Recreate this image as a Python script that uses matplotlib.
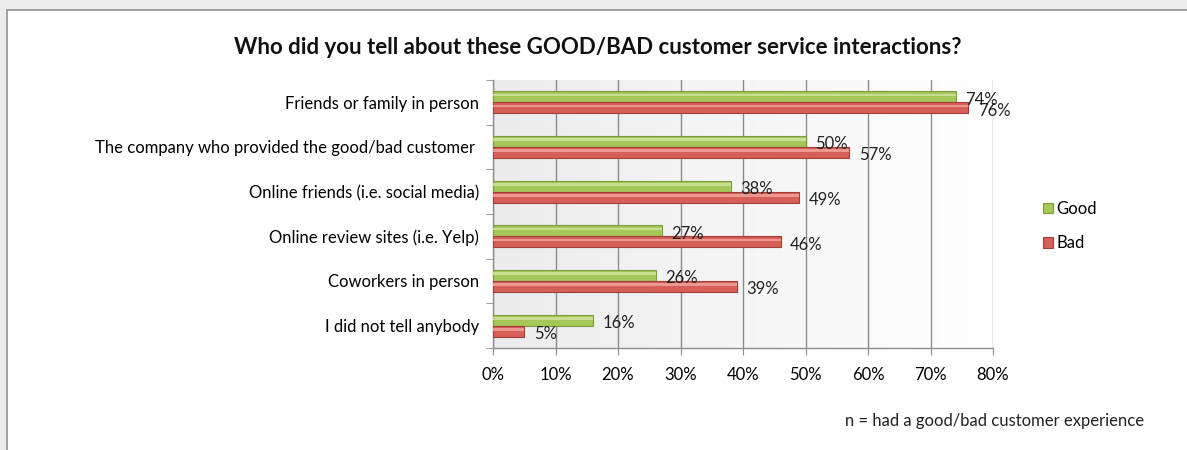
import matplotlib
matplotlib.use("Agg")
import matplotlib.pyplot as plt
import numpy as np
from matplotlib.patches import Rectangle
from matplotlib.lines import Line2D

categories = [
    "Friends or family in person",
    "The company who provided the good/bad customer ",
    "Online friends (i.e. social media)",
    "Online review sites (i.e. Yelp)",
    "Coworkers in person",
    "I did not tell anybody",
]
good = [74, 50, 38, 27, 26, 16]
bad = [76, 57, 49, 46, 39, 5]
series_names = ["Good", "Bad"]
xticks = [0, 10, 20, 30, 40, 50, 60, 70, 80]
title = "Who did you tell about these GOOD/BAD customer service interactions?"
footnote = "n = had a good/bad customer experience"

plt.rcParams["font.family"] = ["Lato", "DejaVu Sans"]

W, H = 1187, 450
fig = plt.figure(figsize=(W / 100, H / 100), dpi=100)
fig.patch.set_facecolor("#ededed")

# white chart frame (open at right and bottom)
x0, y0 = 7 / W, 1 - 10 / H
fig.add_artist(Rectangle((x0, 0), 1 - x0, y0, transform=fig.transFigure,
                         facecolor="white", edgecolor="none", zorder=-10))
fig.add_artist(Line2D([x0, 1], [y0, y0], transform=fig.transFigure,
                      color="#a0a0a0", linewidth=1.4, zorder=-9))
fig.add_artist(Line2D([x0, x0], [0, y0], transform=fig.transFigure,
                      color="#a0a0a0", linewidth=1.4, zorder=-9))

ax = fig.add_axes([493 / W, 1 - 348 / H, 500 / W, 268 / H])
ax.set_facecolor("none")
ax.set_zorder(1)

# gradient background of plot area
grad = np.linspace(0, 1, 256).reshape(1, -1)
ax.imshow(grad, cmap=matplotlib.colors.LinearSegmentedColormap.from_list(
    "bg", ["#ececec", "#ffffff"]), aspect="auto", extent=[0, 1, 0, 1],
    transform=ax.transAxes, zorder=0)

y = np.arange(len(categories))
h = 0.245
green_c = "#a5c858"
red_c = "#d65f58"
bg = ax.barh(y - 0.125, good, height=h, color=green_c, edgecolor="#7f9a3e",
             linewidth=0.8, label=series_names[0], zorder=3)
br = ax.barh(y + 0.125, bad, height=h, color=red_c, edgecolor="#a2403b",
             linewidth=0.8, label=series_names[1], zorder=3)
# highlight stripes for a subtle 3D look
ax.barh(y - 0.125 - 0.04, good, height=0.06, color="#d2e6a2", linewidth=0,
        zorder=4, alpha=0.8)
ax.barh(y + 0.125 - 0.04, bad, height=0.06, color="#f2a7a0", linewidth=0,
        zorder=4, alpha=0.8)

for yi, v in zip(y, good):
    ax.annotate(f"{v}%", (v, yi - 0.125), xytext=(7, -2), textcoords="offset points",
                va="center", ha="left", fontsize=12, color="#222222", zorder=5)
for yi, v in zip(y, bad):
    ax.annotate(f"{v}%", (v, yi + 0.125), xytext=(7, -2), textcoords="offset points",
                va="center", ha="left", fontsize=12, color="#222222", zorder=5)

ax.set_xlim(0, 80)
ax.set_ylim(5.5, -0.5)
ax.set_xticks(xticks)
ax.set_xticklabels([f"{t}%" for t in xticks], fontsize=12)
ax.set_yticks(y)
ax.set_yticklabels(categories, fontsize=12)
ax.set_yticks(np.arange(-0.5, len(categories) + 0.5, 1), minor=True)
ax.tick_params(axis="y", which="major", length=0, pad=10)
ax.tick_params(axis="y", which="minor", length=5, color="#8c8c8c")
ax.tick_params(axis="x", length=5, color="#8c8c8c", pad=9)
ax.xaxis.grid(True, color="#8c8c8c", linewidth=1.0, zorder=1)
ax.set_axisbelow(True)
for s in ["top", "right"]:
    ax.spines[s].set_visible(False)
for s in ["left", "bottom"]:
    ax.spines[s].set_color("#8c8c8c")
    ax.spines[s].set_linewidth(1.0)

leg = fig.legend(handles=[bg, br], labels=series_names, loc="center left",
                 bbox_to_anchor=(1028 / W, 1 - 226 / H), frameon=False,
                 fontsize=12, handlelength=0.6, handleheight=0.6,
                 handletextpad=0.2, labelspacing=1.1)

fig.text(598 / W, 1 - 47 / H, title, ha="center", va="center",
         fontsize=16, fontweight="bold", color="#111111")
fig.text(845 / W, 1 - 421 / H, footnote, ha="left", va="center",
         fontsize=12, color="#222222")

fig.savefig("out.png", dpi=100, facecolor=fig.get_facecolor())
